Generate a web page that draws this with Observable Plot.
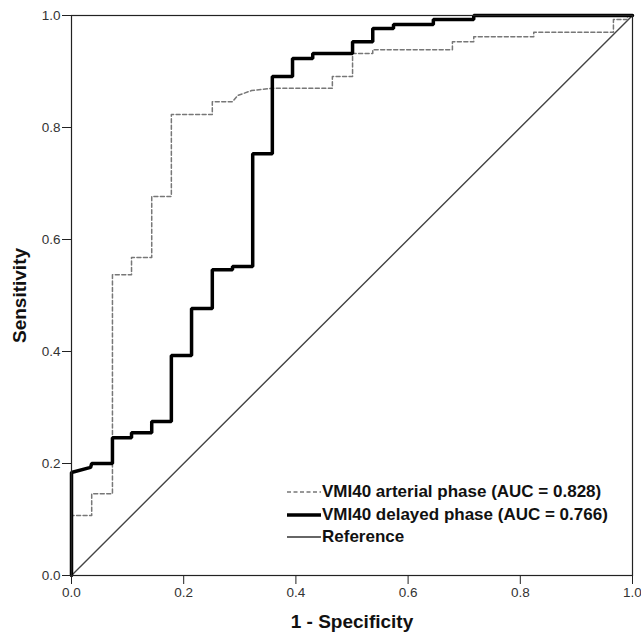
<!DOCTYPE html>
<html>
<head>
<meta charset="utf-8">
<script src="https://cdn.jsdelivr.net/npm/d3@7"></script>
<script src="https://cdn.jsdelivr.net/npm/@observablehq/plot@0.6"></script>
<style>
  html, body { margin: 0; padding: 0; background: #fff; }
  #wrap { position: relative; width: 641px; height: 636px; font-family: "Liberation Sans", Arial, sans-serif; }
  #legend { position: absolute; left: 286px; top: 481px; font-weight: bold; font-size: 17px; color: #111; }
  #legend .row { display: flex; align-items: center; height: 22.5px; white-space: nowrap; }
  #legend svg { margin-right: 1px; }
</style>
</head>
<body>
<div id="wrap"></div>
<script>
// Series: ROC curve points (1 - specificity, sensitivity)
const arterialX = [0, 0, 0.036, 0.036, 0.073, 0.073, 0.107, 0.107, 0.143, 0.143, 0.178, 0.178, 0.251, 0.251, 0.287, 0.296, 0.321, 0.358, 0.465, 0.465, 0.501, 0.501, 0.537, 0.537, 0.679, 0.679, 0.717, 0.717, 0.824, 0.824, 0.966, 0.966, 0.991, 0.991, 1.0];
const arterialY = [0, 0.107, 0.107, 0.146, 0.146, 0.537, 0.537, 0.568, 0.568, 0.677, 0.677, 0.823, 0.823, 0.846, 0.846, 0.857, 0.866, 0.870, 0.870, 0.891, 0.891, 0.932, 0.932, 0.939, 0.939, 0.953, 0.953, 0.962, 0.962, 0.970, 0.970, 0.993, 0.993, 1.0, 1.0];
const delayedX = [0, 0, 0.034, 0.036, 0.073, 0.073, 0.107, 0.107, 0.143, 0.143, 0.178, 0.178, 0.214, 0.214, 0.251, 0.251, 0.287, 0.287, 0.323, 0.323, 0.358, 0.358, 0.394, 0.394, 0.430, 0.430, 0.501, 0.501, 0.537, 0.537, 0.574, 0.574, 0.645, 0.645, 0.717, 0.717, 1.0];
const delayedY = [0, 0.184, 0.193, 0.200, 0.200, 0.246, 0.246, 0.255, 0.255, 0.275, 0.275, 0.393, 0.393, 0.477, 0.477, 0.546, 0.546, 0.552, 0.552, 0.753, 0.753, 0.891, 0.891, 0.923, 0.923, 0.932, 0.932, 0.953, 0.953, 0.977, 0.977, 0.984, 0.984, 0.993, 0.993, 1.0, 1.0];
const referenceX = [0, 1];
const referenceY = [0, 1];
const tickValues = [0, 0.2, 0.4, 0.6, 0.8, 1.0];
const seriesLabels = ["VMI40 arterial phase (AUC = 0.828)", "VMI40 delayed phase (AUC = 0.766)", "Reference"];
const xTitle = "1 - Specificity";
const yTitle = "Sensitivity";

const arterial = arterialX.map((x, i) => ({x, y: arterialY[i]}));
const delayed = delayedX.map((x, i) => ({x, y: delayedY[i]}));
const reference = referenceX.map((x, i) => ({x, y: referenceY[i]}));

const chart = Plot.plot({
  width: 641,
  height: 636,
  marginLeft: 71,
  marginRight: 9,
  marginTop: 15,
  marginBottom: 61,
  style: {fontFamily: "Liberation Sans, Arial, sans-serif", fontSize: "13.5px", color: "#333", background: "#fff"},
  x: {domain: [0, 1]},
  y: {domain: [0, 1]},
  marks: [
    Plot.line(reference, {x: "x", y: "y", stroke: "#444", strokeWidth: 1.4}),
    Plot.line(arterial, {x: "x", y: "y", stroke: "#777", strokeWidth: 1.5, strokeDasharray: "4,2.5"}),
    Plot.line(delayed, {x: "x", y: "y", stroke: "#000", strokeWidth: 3.5, strokeLinejoin: "miter"}),
    Plot.frame({stroke: "#222", strokeWidth: 1.2}),
    Plot.axisX({ticks: tickValues, tickFormat: d3.format(".1f"), tickSize: 9, tickPadding: 3, label: null, stroke: "#222"}),
    Plot.axisY({ticks: tickValues, tickFormat: d3.format(".1f"), tickSize: 9, tickPadding: 2, label: null, stroke: "#222"}),
    Plot.text([xTitle], {frameAnchor: "bottom", dy: 52, fontWeight: "bold", fontSize: 19, fill: "#111"}),
    Plot.text([yTitle], {frameAnchor: "left", dx: -52, rotate: -90, textAnchor: "middle", fontWeight: "bold", fontSize: 19, fill: "#111"})
  ]
});

const wrap = document.getElementById("wrap");
wrap.appendChild(chart);

const legend = document.createElement("div");
legend.id = "legend";
const swatches = [
  {stroke: "#777", width: 1.5, dash: "4,2.5"},
  {stroke: "#000", width: 3.5, dash: null},
  {stroke: "#666", width: 2, dash: null}
];
seriesLabels.forEach((label, i) => {
  const row = document.createElement("div");
  row.className = "row";
  const s = swatches[i];
  row.innerHTML = `<svg width="35" height="10"><line x1="1" y1="5" x2="35" y2="5" stroke="${s.stroke}" stroke-width="${s.width}" ${s.dash ? `stroke-dasharray="${s.dash}"` : ""}/></svg><span>${label}</span>`;
  legend.appendChild(row);
});
wrap.appendChild(legend);
</script>
</body>
</html>
